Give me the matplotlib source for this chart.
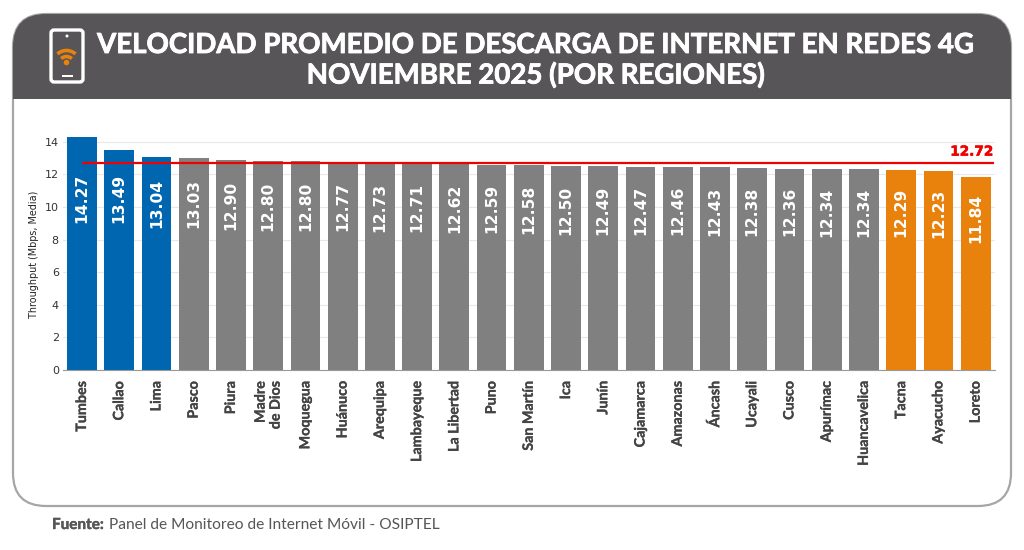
import matplotlib
matplotlib.use('Agg')
import matplotlib.pyplot as plt
import matplotlib.patheffects as pe
from matplotlib.patches import FancyBboxPatch, Rectangle, Arc, Circle

regiones = ['Tumbes', 'Callao', 'Lima', 'Pasco', 'Piura', 'Madre\nde Dios', 'Moquegua',
            'Huánuco', 'Arequipa', 'Lambayeque', 'La Libertad', 'Puno', 'San Martín',
            'Ica', 'Junín', 'Cajamarca', 'Amazonas', 'Áncash', 'Ucayali', 'Cusco',
            'Apurímac', 'Huancavelica', 'Tacna', 'Ayacucho', 'Loreto']
velocidad = [14.27, 13.49, 13.04, 13.03, 12.90, 12.80, 12.80, 12.77, 12.73, 12.71,
             12.62, 12.59, 12.58, 12.50, 12.49, 12.47, 12.46, 12.43, 12.38, 12.36,
             12.34, 12.34, 12.29, 12.23, 11.84]
promedio = 12.72
y_ticks = [0, 2, 4, 6, 8, 10, 12, 14]

AZUL = '#0066b0'
GRIS = '#808080'
NARANJA = '#e8820c'
OSCURO = '#575557'


def grueso(color, ancho):
    # las fuentes instaladas no tienen peso "black", se engrosa con un trazo
    return [pe.withStroke(linewidth=ancho, foreground=color)]


colores = [AZUL] * 3 + [GRIS] * 19 + [NARANJA] * 3

fig = plt.figure(figsize=(10.24, 5.5), dpi=100, facecolor='white')

# fondo: marco redondeado, cabecera e icono (en pixeles)
bg = fig.add_axes([0, 0, 1, 1], zorder=0)
bg.set_xlim(0, 1024)
bg.set_ylim(550, 0)
bg.axis('off')

marco = FancyBboxPatch((13, 14), 998, 492, boxstyle='round,pad=0,rounding_size=33',
                       fc='white', ec='#a6a6a6', lw=1.6)
bg.add_patch(marco)
cabecera = Rectangle((12, 14), 1000, 85, fc=OSCURO, ec='none')
bg.add_patch(cabecera)
cabecera.set_clip_path(marco)

bg.add_patch(FancyBboxPatch((51, 30), 32, 52, boxstyle='round,pad=0,rounding_size=3',
                            fc='none', ec='white', lw=2.4))
bg.add_patch(Circle((67, 36), 1.5, fc='white', ec='none'))
bg.add_patch(Rectangle((62, 75), 11, 2.2, fc='white', ec='none'))
bg.add_patch(Circle((66.5, 62.5), 2.8, fc=NARANJA, ec='none'))
bg.add_patch(Arc((66.5, 64), 15, 15, theta1=225, theta2=315, color=NARANJA, lw=2.6))
bg.add_patch(Arc((66.5, 64), 27, 27, theta1=228, theta2=312, color=NARANJA, lw=2.6))

bg.text(536, 45, 'VELOCIDAD PROMEDIO DE DESCARGA DE INTERNET EN REDES 4G', color='white',
        fontsize=19.9, fontweight='bold', family='Lato', ha='center', va='center',
        path_effects=grueso('white', 0.6))
bg.text(536, 75, 'NOVIEMBRE 2025 (POR REGIONES)', color='white',
        fontsize=19.9, fontweight='bold', family='Lato', ha='center', va='center',
        path_effects=grueso('white', 0.6))

bg.text(52, 525, 'Fuente:', color=OSCURO, fontsize=11, fontweight='bold',
        family='Lato', va='center', path_effects=grueso(OSCURO, 0.3))
bg.text(109, 525, 'Panel de Monitoreo de Internet Móvil - OSIPTEL', color=OSCURO,
        fontsize=11.2, family='Lato', va='center')

# grafico
ax = fig.add_axes([63 / 1024, 1 - 370 / 550, 932 / 1024, 240 / 550], zorder=1)
ax.patch.set_alpha(0)
x = list(range(len(regiones)))
ax.bar(x, velocidad, width=0.8, color=colores, zorder=2)
ax.hlines(promedio, 0, len(regiones) - 0.52, color='#f00000', lw=1.6, zorder=3)
ax.text(len(regiones) - 0.52, promedio + 0.25, f'{promedio:.2f}', color='#f00000',
        fontsize=9.8, fontweight='bold', family='DejaVu Sans', ha='right', va='bottom',
        path_effects=grueso('#f00000', 0.4))

for xi, v in zip(x, velocidad):
    ax.text(xi, min(v, 13.4) * 0.785, f'{v:.2f}', color='white', rotation=90,
            fontsize=11.2, fontweight='bold', family='DejaVu Sans',
            ha='center', va='center', zorder=4)

ax.set_xlim(-0.51, 24.52)
ax.set_ylim(0, 240 / 16.3)
ax.set_yticks(y_ticks)
ax.tick_params(axis='y', length=0, labelsize=8, pad=3, labelcolor='#333333')
ax.grid(axis='y', color='#e8e8e8', lw=0.8, zorder=1)
ax.set_axisbelow(True)
ax.set_ylabel('Throughput (Mbps, Media)', fontsize=6.9, color='#222222', labelpad=4, y=0.48)

ax.set_xticks(x)
ax.set_xticklabels(regiones, rotation=90, fontsize=10.3, fontweight='bold',
                   family='Lato', color='#444444', linespacing=1.3,
                   path_effects=grueso('#444444', 0.2))
for lab in ax.get_xticklabels():
    lab.set_multialignment('right')
ax.tick_params(axis='x', length=0, pad=8)

for s in ['top', 'right', 'left']:
    ax.spines[s].set_visible(False)
ax.spines['bottom'].set_color('#999999')

fig.savefig('out.png', dpi=100)
